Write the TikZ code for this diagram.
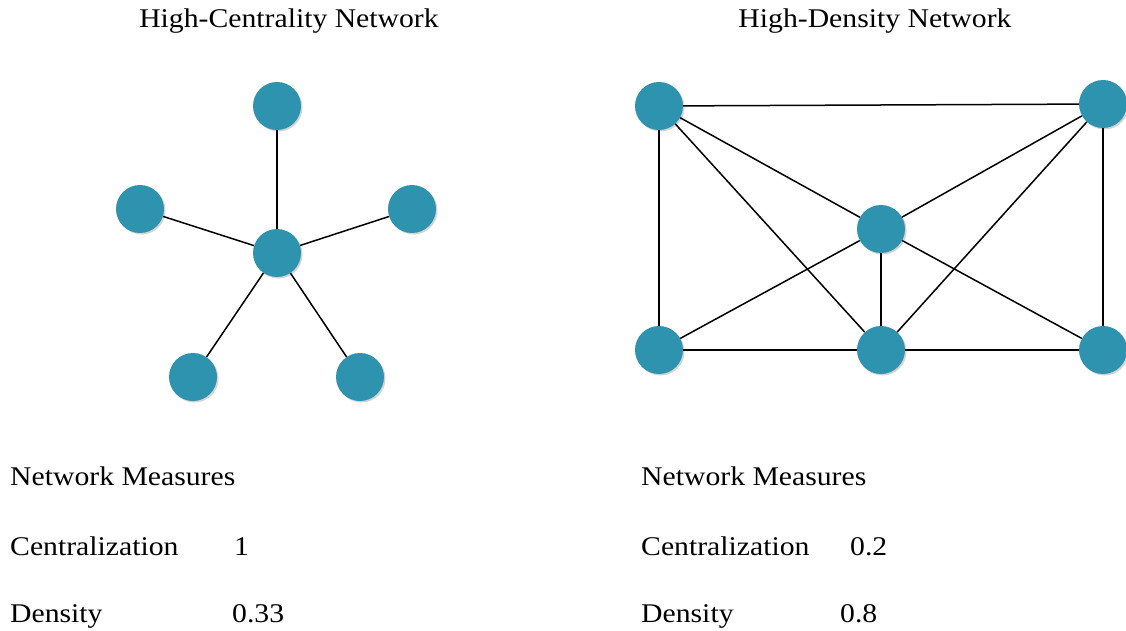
\documentclass[tikz,border=0pt]{standalone}
\usepackage{fontspec}
\setmainfont[FakeStretch=1.1]{Liberation Serif}
\usetikzlibrary{shadows}
\definecolor{nodeblue}{HTML}{2E93AE}
\tikzset{
  vert/.style={circle, fill=nodeblue, minimum size=48pt, inner sep=0pt,
    drop shadow={opacity=0.35, shadow xshift=1.5pt, shadow yshift=-1.5pt}},
  edge/.style={draw=black, line width=1.5pt},
  lbl/.style={font=\fontsize{27}{32}\selectfont, inner sep=0pt, anchor=base west},
  ttl/.style={font=\fontsize{27}{32}\selectfont, inner sep=0pt, anchor=base}
}
\begin{document}
\begin{tikzpicture}[x=1pt,y=-1pt]
\useasboundingbox (0,0) rectangle (1126,631);
\clip (0,0) rectangle (1126,631);
% titles
\node[ttl] (t1) at (289,28) {High-Centrality Network};
\node[ttl] (t2) at (875,28) {High-Density Network};
% star network
\node[vert] (c) at (277,253) {};
\node[vert] (s1) at (277,106) {};
\node[vert] (s2) at (140,209) {};
\node[vert] (s3) at (412,209) {};
\node[vert] (s4) at (193,377) {};
\node[vert] (s5) at (360,377) {};
% dense network
\node[vert] (tl) at (659,106) {};
\node[vert] (tr) at (1103,104) {};
\node[vert] (m) at (881,229) {};
\node[vert] (bl) at (659,350) {};
\node[vert] (bm) at (881,350) {};
\node[vert] (br) at (1103,350) {};
% edges
\foreach \a/\b in {c/s1,c/s2,c/s3,c/s4,c/s5,
  tl/tr,tl/bl,tl/m,tl/bm,tr/br,tr/m,tr/bm,m/bl,m/bm,m/br,bl/bm,bm/br}
  \draw[edge] (\a) -- (\b);
% measures
\node[lbl] (l1) at (10,485) {Network Measures};
\node[lbl] (l2) at (10,555) {Centralization};
\node[lbl] (l3) at (10,622) {Density};
\node[lbl] (v2) at (234,555) {1};
\node[lbl] (v3) at (232,622) {0.33};
\node[lbl] (r1) at (641,485) {Network Measures};
\node[lbl] (r2) at (641,555) {Centralization};
\node[lbl] (r3) at (641,622) {Density};
\node[lbl] (w2) at (850,555) {0.2};
\node[lbl] (w3) at (840,622) {0.8};
\end{tikzpicture}
\end{document}
